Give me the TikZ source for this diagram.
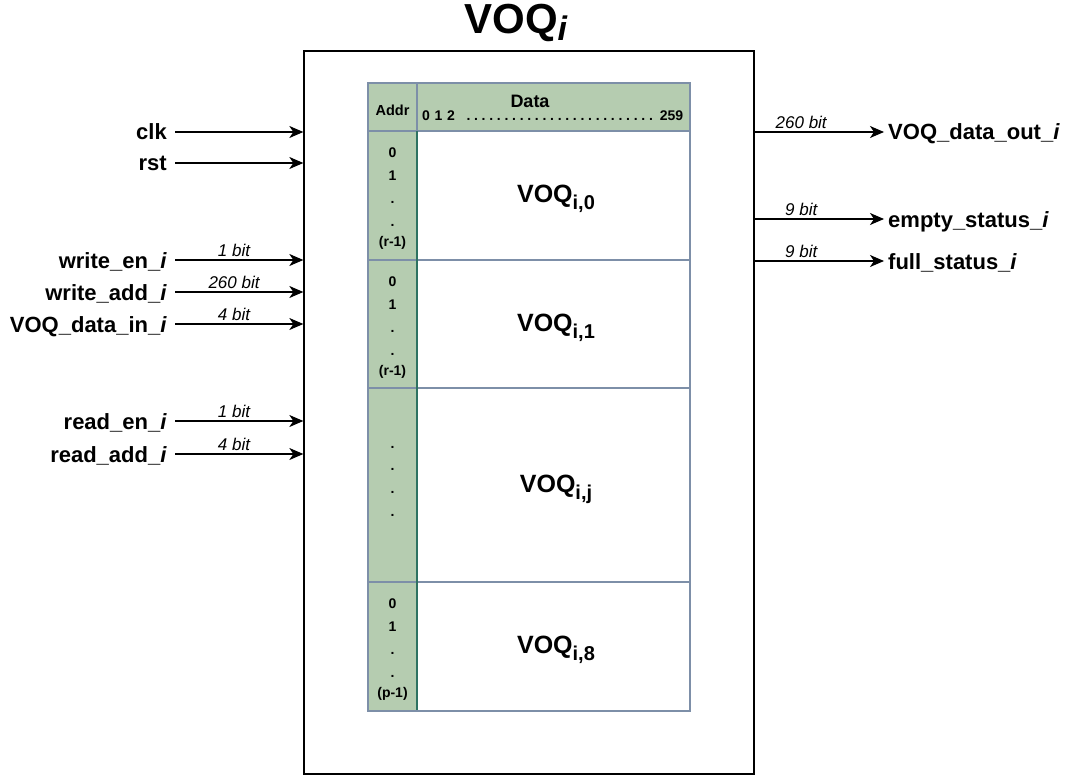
\documentclass[tikz,border=0pt]{standalone}
\usepackage{fontspec}
\setmainfont{Liberation Sans}
\usepackage{tikz}
\usetikzlibrary{positioning,calc,arrows.meta}
\definecolor{cellgreen}{HTML}{B5CCB0}
\definecolor{cellline}{HTML}{7D8FA8}
\definecolor{addrline}{HTML}{2E7262}

\tikzset{
  port/.style={font=\bfseries\fontsize{22}{26}\selectfont, text height=16pt, text depth=0pt, inner sep=4pt},
  bitlbl/.style={font=\itshape\fontsize{17}{20}\selectfont, text depth=0pt, inner sep=3pt},
  sig/.style={line width=1.3pt, -{Stealth[length=14pt, width=12pt, inset=4pt]}},
  addrtxt/.style={font=\bfseries\fontsize{14}{16}\selectfont, inner sep=0pt},
  qlbl/.style={font=\bfseries\fontsize{25}{29}\selectfont}
}

\begin{document}
\begin{tikzpicture}[x=1pt, y=-1pt]
  \useasboundingbox (0,0) rectangle (1070,778);

  % Title and module box
  \node[font=\bfseries\fontsize{42}{48}\selectfont, anchor=base] (title) at (516,34)
    {VOQ\raisebox{-7pt}{\fontsize{34}{34}\selectfont\textit{i}}};
  \node[draw, line width=1.3pt, minimum width=450pt, minimum height=723pt, inner sep=0pt] (voq) at (529,412.5) {};

  % Memory table
  \fill[cellgreen] (368,83) rectangle (690,131);
  \fill[cellgreen] (368,131) rectangle (417,711);
  \foreach \yy in {131,260,388,582} {
    \draw[cellline, line width=1.5pt] (368,\yy) -- (690,\yy);
  }
  \draw[cellline, line width=1.5pt] (417,83) -- (417,131);
  \draw[addrline, line width=1.5pt] (417,131) -- (417,711);
  \draw[cellline, line width=1.5pt] (368,83) rectangle (690,711);

  \node[font=\bfseries\fontsize{14.5}{16}\selectfont] (addr) at (392.5,110) {Addr};
  \node[font=\bfseries\fontsize{18}{20}\selectfont] (data) at (530,101) {Data};
  \node[font=\bfseries\fontsize{14}{16}\selectfont, anchor=base west, text width=261pt, inner sep=0pt] (index) at (422,120.5)
    {0 1 2\ \ \cleaders\hbox to 7.6pt{\hss.\hss}\hfill\ 259};

  % VOQ rows
  \foreach \nm/\tp/\bt/\sb in {q0/131/260/0, q1/260/388/1, qj/388/582/j, q8/582/711/8} {
    \node[qlbl, anchor=base] (\nm) at (556, {(\tp+\bt)/2+7})
      {VOQ\raisebox{-7pt}{\fontsize{20}{20}\selectfont i,\sb}};
  }

  % address entries
  \foreach \tp/\lst in {131/r, 260/r, 582/p} {
    \node[addrtxt] at (392.5,\tp+22) {0};
    \node[addrtxt] at (392.5,\tp+45) {1};
    \node[addrtxt] at (392.5,\tp+71) {.};
    \node[addrtxt] at (392.5,\tp+94) {.};
    \node[addrtxt] at (392.5,\tp+112) {(\lst-1)};
  }
  \foreach \dy in {59,81,104,127} {
    \node[addrtxt] at (392.5,388+\dy) {.};
  }

  % Inputs
  \foreach \nm/\yy/\lbl in {clk/132/clk, rst/163/rst} {
    \node[port, anchor=east, inner xsep=8pt] (\nm) at (175,\yy) {\lbl};
    \draw[sig] (\nm.east) -- (\nm.east -| voq.west);
  }
  \foreach \nm/\yy/\lbl/\bw in {wen/260/write\_en\_\textit{i}/1, wadd/292/write\_add\_\textit{i}/260,
      din/324/VOQ\_data\_in\_\textit{i}/4, ren/421/read\_en\_\textit{i}/1, radd/454/read\_add\_\textit{i}/4} {
    \node[port, anchor=east, inner xsep=8pt] (\nm) at (175,\yy) {\lbl};
    \draw[sig] (\nm.east) -- node[bitlbl, pos=0.46, above] {\bw\ bit} (\nm.east -| voq.west);
  }

  % Outputs
  \foreach \nm/\yy/\lbl/\bw in {dout/132/VOQ\_data\_out\_\textit{i}/260, empty/219/empty\_status\_\textit{i}/9,
      full/261/full\_status\_\textit{i}/9} {
    \node[port, anchor=west] (\nm) at (884,\yy) {\lbl};
    \draw[sig] (\nm.west -| voq.east) -- node[bitlbl, pos=0.36, above] {\bw\ bit} (\nm.west);
  }
\end{tikzpicture}
\end{document}
